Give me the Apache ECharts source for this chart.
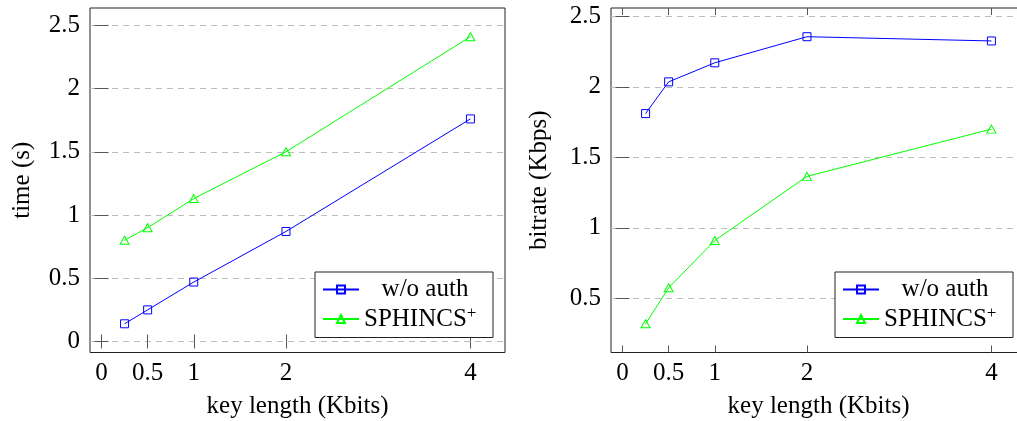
<!DOCTYPE html>
<html>
<head>
<meta charset="utf-8">
<script src="https://cdn.jsdelivr.net/npm/echarts@6/dist/echarts.min.js"></script>
<style>
  html, body { margin: 0; padding: 0; background: #fff; }
  #chart { width: 1017px; height: 421px; }
</style>
</head>
<body>
<div id="chart"></div>
<script>
// key length in Kbits
const keyLengths = [0.25, 0.5, 1, 2, 4]
const xTicks = [0, 0.5, 1, 2, 4]

// time (s)
const timeNoAuth = [0.14, 0.25, 0.47, 0.87, 1.76]
const timeSphincs = [0.80, 0.90, 1.13, 1.50, 2.41]
const timeTicks = [0, 0.5, 1, 1.5, 2, 2.5]

// bitrate (Kbps)
const rateNoAuth = [1.81, 2.035, 2.17, 2.355, 2.325]
const rateSphincs = [0.32, 0.575, 0.91, 1.365, 1.70]
const rateTicks = [0.5, 1, 1.5, 2, 2.5]

const names = ['w/o auth', 'SPHINCS+']

const FONT = 'Liberation Serif'
const FS = 25
const BLUE = '#0000ff'
const GREEN = '#00ff00'

// pgfplots style: pad the data range by 10% on each side
function enlarge(arrs) {
  const all = [].concat(...arrs)
  const lo = Math.min(...all)
  const hi = Math.max(...all)
  const pad = (hi - lo) * 0.1
  return { min: lo - pad, max: hi + pad }
}

const xRange = enlarge([keyLengths])
const timeRange = enlarge([timeNoAuth, timeSphincs])
const rateRange = enlarge([rateNoAuth, rateSphincs])

const pairs = (ys) => keyLengths.map((x, i) => [x, ys[i]])

const tickStyle = { show: true, inside: true, length: 7, lineStyle: { color: '#555', width: 1 } }

function xAxes(gridIndex) {
  return [{
    type: 'value',
    gridIndex: gridIndex,
    min: xRange.min,
    max: xRange.max,
    name: 'key length (Kbits)',
    nameLocation: 'middle',
    nameGap: 41,
    nameTextStyle: { fontFamily: FONT, fontSize: FS, color: '#000' },
    axisLine: { show: false },
    axisTick: Object.assign({ customValues: xTicks }, tickStyle),
    axisLabel: { customValues: xTicks, fontFamily: FONT, fontSize: FS, color: '#000', margin: 8 },
    splitLine: { show: false }
  }, {
    type: 'value',
    gridIndex: gridIndex,
    position: 'top',
    min: xRange.min,
    max: xRange.max,
    axisLine: { show: false },
    axisTick: Object.assign({ customValues: xTicks }, tickStyle),
    axisLabel: { show: false },
    splitLine: { show: false }
  }]
}

function yAxes(gridIndex, range, ticks, title, gap) {
  return [{
    type: 'value',
    gridIndex: gridIndex,
    min: range.min,
    max: range.max,
    name: title,
    nameLocation: 'middle',
    nameGap: gap,
    nameTextStyle: { fontFamily: FONT, fontSize: FS, color: '#000' },
    axisLine: { show: false },
    axisTick: Object.assign({ customValues: ticks }, tickStyle),
    axisLabel: { customValues: ticks, fontFamily: FONT, fontSize: FS, color: '#000', margin: 10 },
    splitLine: { show: true, lineStyle: { color: '#bdbdbd', width: 1, type: [6, 5] } }
  }, {
    type: 'value',
    gridIndex: gridIndex,
    position: 'right',
    min: range.min,
    max: range.max,
    axisLine: { show: false },
    axisTick: Object.assign({ customValues: ticks }, tickStyle),
    axisLabel: { show: false },
    splitLine: { show: false }
  }]
}

function makeSeries(name, xi, yi, ys, color, symbol, size) {
  return {
    name: name,
    type: 'line',
    xAxisIndex: xi,
    yAxisIndex: yi,
    data: pairs(ys),
    symbol: symbol,
    symbolSize: size,
    color: color,
    lineStyle: { color: color, width: 1 },
    itemStyle: { color: 'rgba(255,255,255,0)', borderColor: color, borderWidth: 1 },
    animation: false
  }
}

function legendAt(left) {
  return {
    data: names,
    orient: 'vertical',
    left: left,
    top: 272,
    padding: [5, 7, 6, 7],
    itemGap: 3,
    itemWidth: 36,
    itemHeight: 10,
    borderColor: '#222',
    borderWidth: 1,
    backgroundColor: '#fff',
    selectedMode: false,
    formatter: (n) => n === 'SPHINCS+' ? '{a|SPHINCS}{s|+}' : '{c|' + n + '}',
    textStyle: {
      fontFamily: FONT,
      fontSize: FS,
      color: '#000',
      rich: {
        c: { fontFamily: FONT, fontSize: FS, lineHeight: 28, width: 122, align: 'center' },
        a: { fontFamily: FONT, fontSize: FS, lineHeight: 28 },
        s: { fontFamily: FONT, fontSize: 17, lineHeight: 16, verticalAlign: 'top' }
      }
    }
  }
}

const chart = echarts.init(document.getElementById('chart'), null, { renderer: 'canvas' })

chart.setOption({
  animation: false,
  backgroundColor: '#fff',
  grid: [
    { left: 90, right: 512, top: 8, bottom: 68.5, outerBoundsMode: 'none', show: true, borderColor: '#222', borderWidth: 1 },
    // right panel runs past the picture edge in the original
    { left: 611, right: -9, top: 8, bottom: 68.5, outerBoundsMode: 'none', show: true, borderColor: '#222', borderWidth: 1 }
  ],
  xAxis: xAxes(0).concat(xAxes(1)),
  yAxis: yAxes(0, timeRange, timeTicks, 'time (s)', 55).concat(yAxes(1, rateRange, rateTicks, 'bitrate (Kbps)', 59)),
  legend: [legendAt(315), legendAt(835)],
  series: [
    makeSeries(names[0], 0, 0, timeNoAuth, BLUE, 'rect', 8),
    makeSeries(names[1], 0, 0, timeSphincs, GREEN, 'triangle', [9, 8]),
    makeSeries(names[0], 2, 2, rateNoAuth, BLUE, 'rect', 8),
    makeSeries(names[1], 2, 2, rateSphincs, GREEN, 'triangle', [9, 8])
  ]
})
</script>
</body>
</html>
